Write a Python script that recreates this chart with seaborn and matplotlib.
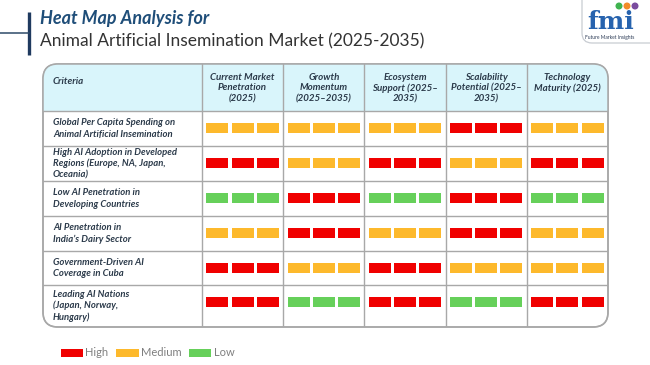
import pandas as pd
import matplotlib.pyplot as plt
import seaborn as sns
from matplotlib.patches import FancyBboxPatch, Rectangle, Circle, Patch

# chart data
criteria = [
    'Global Per Capita Spending on\nAnimal Artificial Insemination',
    'High AI Adoption in Developed\nRegions (Europe, NA, Japan,\nOceania)',
    'Low AI Penetration in\nDeveloping Countries',
    'AI Penetration in\nIndia\u2019s Dairy Sector',
    'Government-Driven AI\nCoverage in Cuba',
    'Leading AI Nations\n(Japan, Norway,\nHungary)',
]
columns = [
    'Current Market\nPenetration\n(2025)',
    'Growth\nMomentum\n(2025\u20132035)',
    'Ecosystem\nSupport (2025\u2013\n2035)',
    'Scalability\nPotential (2025\u2013\n2035)',
    'Technology\nMaturity (2025)',
]
current_penetration = ['Medium', 'High', 'Low', 'Medium', 'High', 'High']
growth_momentum = ['Medium', 'Medium', 'High', 'High', 'Medium', 'Low']
ecosystem_support = ['Medium', 'High', 'Low', 'Medium', 'High', 'High']
scalability_potential = ['High', 'Medium', 'High', 'High', 'Medium', 'Low']
technology_maturity = ['Medium', 'High', 'Low', 'Medium', 'Medium', 'High']
legend_levels = ['High', 'Medium', 'Low']

level_colors = {'High': '#F00000', 'Medium': '#FDB92C', 'Low': '#66D05A'}

# long table: one record per (criterion, column)
df = pd.DataFrame({
    'criterion': criteria,
    columns[0]: current_penetration,
    columns[1]: growth_momentum,
    columns[2]: ecosystem_support,
    columns[3]: scalability_potential,
    columns[4]: technology_maturity,
})
long_df = df.melt(id_vars='criterion', var_name='column', value_name='level')
long_df['row'] = long_df['criterion'].map({c: i for i, c in enumerate(criteria)})
long_df['col'] = long_df['column'].map({c: i for i, c in enumerate(columns)})

sns.set_theme(style='white')
plt.rcParams['font.family'] = ['Lato', 'DejaVu Sans']

W, H = 650, 365
fig = plt.figure(figsize=(6.5, 3.65), dpi=100)

# background layer in pixel units
bg = fig.add_axes([0, 0, 1, 1])
bg.set_xlim(0, W)
bg.set_ylim(H, 0)
bg.axis('off')

tbl_left, tbl_right, tbl_top, tbl_bottom = 43, 608, 64, 327
header_h = 47
row_heights = [35, 35, 35, 35, 34, 42]

frame = FancyBboxPatch((tbl_left, tbl_top), tbl_right - tbl_left, tbl_bottom - tbl_top,
                       boxstyle='round,pad=0,rounding_size=15',
                       facecolor='white', edgecolor='#A8A8A8', lw=1.1, zorder=1)
bg.add_patch(frame)
header_fill = Rectangle((tbl_left, tbl_top), tbl_right - tbl_left, header_h,
                        facecolor='#D9F5FB', edgecolor='none', zorder=1.5)
bg.add_patch(header_fill)
header_fill.set_clip_path(frame)
frame2 = FancyBboxPatch((tbl_left, tbl_top), tbl_right - tbl_left, tbl_bottom - tbl_top,
                        boxstyle='round,pad=0,rounding_size=15',
                        facecolor='none', edgecolor='#A8A8A8', lw=1.1, zorder=3)
bg.add_patch(frame2)

# title block
bg.plot([28.5, 28.5], [12, 55], color='#1F3A5F', lw=2.4, solid_capstyle='butt')
bg.plot([0, 28.5], [33, 33], color='#2E4A68', lw=1.1)
bg.text(40, 24, 'Heat Map Analysis for', fontsize=13, fontweight='bold',
        fontstyle='italic', color='#1F4E79', va='baseline')
bg.text(40, 46, 'Animal Artificial Insemination Market (2025-2035)', fontsize=12.5,
        color='#333333', va='baseline')

# logo
logo = FancyBboxPatch((582, -20), 120, 63, boxstyle='round,pad=0,rounding_size=10',
                      facecolor='white', edgecolor='#C8CCD2', lw=0.9)
bg.add_patch(logo)
bg.text(611, 29, 'fmi', fontsize=18, fontweight='bold', family='DejaVu Serif',
        color='#2763AE', ha='center', va='baseline')
for cx, c in zip([619, 627, 635], ['#3FB34F', '#F28C28', '#7A4C9E']):
    bg.add_patch(Circle((cx, 6), 2.8, color=c, zorder=4))
bg.text(610, 38, 'Future Market Insights', fontsize=3.5, color='#2B3A55',
        ha='center', va='center')

# table layer: x in column units, y in pixels
col_w = (tbl_right - 202) / 5
crit_w = (202 - tbl_left) / col_w
ax = fig.add_axes([tbl_left / W, (H - tbl_bottom) / H,
                   (tbl_right - tbl_left) / W, (tbl_bottom - tbl_top) / H])
ax.set_facecolor('none')
ax.set_xlim(-crit_w, 5)
ax.set_ylim(tbl_bottom - tbl_top, 0)
ax.axis('off')

row_tops = [header_h]
for h in row_heights:
    row_tops.append(row_tops[-1] + h)

grid_color = '#A8A8A8'
for y in row_tops[:-1]:
    ax.plot([-crit_w, 5], [y, y], color=grid_color, lw=1.0)
for x in range(5):
    ax.plot([x, x], [0, row_tops[-1]], color=grid_color, lw=1.0)

text_color = '#2B3A4A'
ax.text(-crit_w + 10 / col_w, 17, 'Criteria', fontsize=7, fontweight='bold',
        fontstyle='italic', color=text_color, va='center', ha='left')
for i, name in enumerate(columns):
    ax.text(i + 0.5, 8.5, name, fontsize=7, fontweight='bold', fontstyle='italic',
            color=text_color, ha='center', va='top', linespacing=1.25)
for i, name in enumerate(criteria):
    ax.text(-crit_w + 10 / col_w, (row_tops[i] + row_tops[i + 1]) / 2, name,
            fontsize=6.8, fontweight='bold', fontstyle='italic', color=text_color,
            ha='left', va='center', linespacing=1.3)

# three segments per cell
seg_offsets = [0.19, 0.5, 0.81]
bar_h = 9.5
for _, r in long_df.iterrows():
    yc = row_tops[r['row']] + 17
    ax.bar([r['col'] + o for o in seg_offsets], bar_h, bottom=yc - bar_h / 2,
           width=0.27, color=level_colors[r['level']], edgecolor='none')

handles = [Patch(facecolor=level_colors[l], edgecolor='none', label=l) for l in legend_levels]
fig.legend(handles=handles, loc='center left', bbox_to_anchor=(61 / W, (H - 353) / H),
           ncol=3, frameon=False, fontsize=8, handlelength=2.0, handleheight=0.75,
           handletextpad=0.2, columnspacing=0.7, borderpad=0, borderaxespad=0,
           labelcolor='#7F7F7F')

fig.savefig('out.png', dpi=100)
